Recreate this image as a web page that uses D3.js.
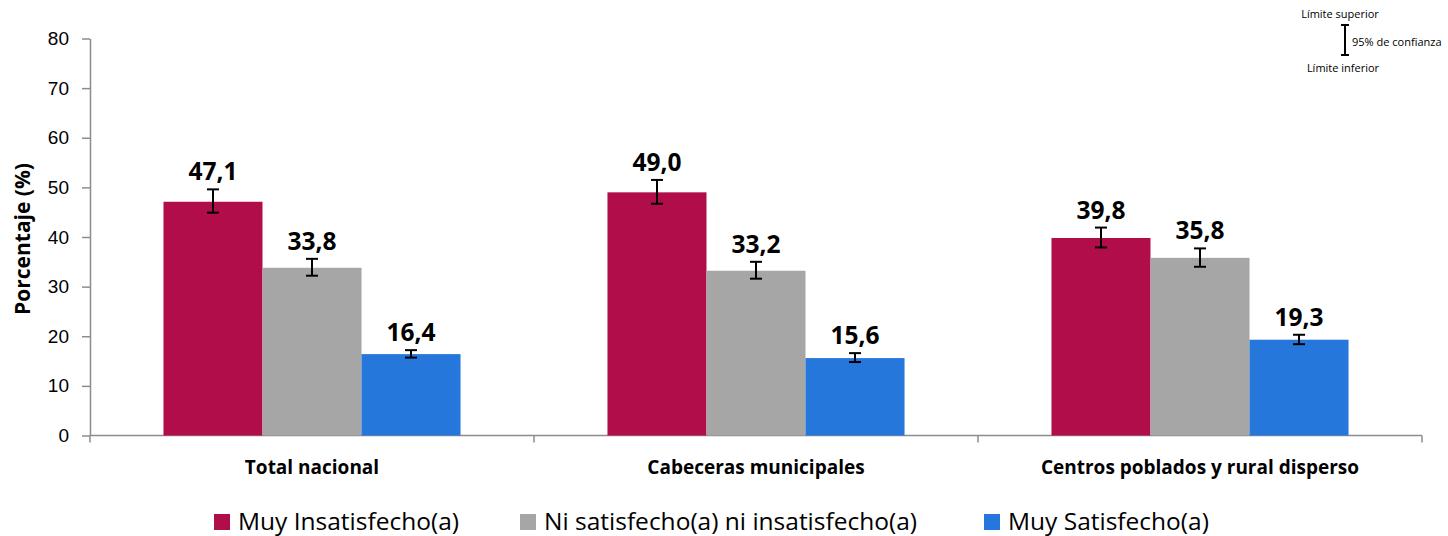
<!DOCTYPE html>
<html>
<head>
<meta charset="utf-8">
<script src="https://cdn.jsdelivr.net/npm/d3@7"></script>
<style>
  body { margin: 0; background: #fff; }
  svg { display: block; font-family: "Open Sans", "Noto Sans", sans-serif; }
  .axis path, .axis line { stroke: #8c8c8c; stroke-width: 1.5; }
  .axis text { fill: #000; }
</style>
</head>
<body>
<script>
(function() {

  // categories on the x axis
  var categories = ["Total nacional", "Cabeceras municipales", "Centros poblados y rural disperso"];
  // series names (legend)
  var seriesNames = ["Muy Insatisfecho(a)", "Ni satisfecho(a) ni insatisfecho(a)", "Muy Satisfecho(a)"];
  var seriesColors = ["#b10d4b", "#a6a6a6", "#2677db"];

  // values per series, one per category
  var muyInsatisfecho = [47.1, 49.0, 39.8];
  var niSatisfecho = [33.8, 33.2, 35.8];
  var muySatisfecho = [16.4, 15.6, 19.3];

  // 95% confidence limits
  var insatLower = [44.9, 46.7, 37.9], insatUpper = [49.6, 51.5, 41.9];
  var niLower = [32.2, 31.6, 34.0], niUpper = [35.6, 35.0, 37.7];
  var satLower = [15.7, 14.8, 18.4], satUpper = [17.2, 16.6, 20.3];

  var yTicks = [0, 10, 20, 30, 40, 50, 60, 70, 80];

  var width = 1448, height = 536;
  var margin = {top: 38.5, left: 90, right: 26, bottom: 100.5};

  var values = [muyInsatisfecho, niSatisfecho, muySatisfecho];
  var lows = [insatLower, niLower, satLower];
  var highs = [insatUpper, niUpper, satUpper];

  // flatten into one record per bar
  var bars = [];
  categories.forEach(function(c, ci) {
    seriesNames.forEach(function(s, si) {
      bars.push({cat: c, series: s, si: si, value: values[si][ci], lo: lows[si][ci], hi: highs[si][ci]});
    });
  });

  var svg = d3.select("body").append("svg")
      .attr("width", width)
      .attr("height", height);

  var x0 = d3.scaleBand()
      .domain(categories)
      .range([margin.left, width - margin.right]);

  var x1 = d3.scaleBand()
      .domain(seriesNames)
      .range([0, x0.bandwidth()])
      .paddingInner(0)
      .paddingOuter(0.742);

  var y = d3.scaleLinear()
      .domain([0, 80])
      .range([height - margin.bottom, margin.top]);

  var fmt = function(v) { return d3.format(".1f")(v).replace(".", ","); };

  /* Y axis */
  var yAxis = svg.append("g")
      .attr("class", "axis")
      .attr("transform", "translate(" + margin.left + ",0)")
      .call(d3.axisLeft(y).tickValues(yTicks).tickSize(8).tickPadding(13).tickSizeOuter(0));
  yAxis.selectAll("text").style("font-size", "19px");

  svg.append("text")
      .attr("transform", "translate(30,239)rotate(-90)")
      .attr("text-anchor", "middle")
      .style("font-size", "21px")
      .style("font-weight", "bold")
      .text("Porcentaje (%)");

  /* X axis: baseline with separators between groups */
  var xAxis = svg.append("g").attr("class", "axis");
  xAxis.append("line")
      .attr("x1", margin.left).attr("x2", width - margin.right)
      .attr("y1", y(0)).attr("y2", y(0));
  var seps = categories.map(function(c) { return x0(c); }).concat([width - margin.right]);
  xAxis.selectAll(".sep")
      .data(seps)
    .enter().append("line")
      .attr("class", "sep")
      .attr("x1", function(d) { return d; }).attr("x2", function(d) { return d; })
      .attr("y1", y(0)).attr("y2", y(0) + 7);

  svg.selectAll(".cat-label")
      .data(categories)
    .enter().append("text")
      .attr("class", "cat-label")
      .attr("x", function(d) { return x0(d) + x0.bandwidth() / 2; })
      .attr("y", 474)
      .attr("text-anchor", "middle")
      .style("font-size", "19px")
      .style("font-weight", "bold")
      .text(function(d) { return d; });

  /* bars */
  svg.selectAll(".bar")
      .data(bars)
    .enter().append("rect")
      .attr("class", "bar")
      .attr("x", function(d) { return x0(d.cat) + x1(d.series); })
      .attr("y", function(d) { return y(d.value); })
      .attr("width", x1.bandwidth())
      .attr("height", function(d) { return y(0) - y(d.value); })
      .style("fill", function(d) { return seriesColors[d.si]; });

  /* error bars */
  var err = svg.selectAll(".err")
      .data(bars)
    .enter().append("g")
      .attr("class", "err")
      .attr("transform", function(d) { return "translate(" + (x0(d.cat) + x1(d.series) + x1.bandwidth() / 2) + ",0)"; })
      .style("stroke", "#000")
      .style("stroke-width", 2);
  err.append("line")
      .attr("y1", function(d) { return y(d.lo); })
      .attr("y2", function(d) { return y(d.hi); });
  err.append("line")
      .attr("x1", -6).attr("x2", 6)
      .attr("y1", function(d) { return y(d.lo); })
      .attr("y2", function(d) { return y(d.lo); });
  err.append("line")
      .attr("x1", -6).attr("x2", 6)
      .attr("y1", function(d) { return y(d.hi); })
      .attr("y2", function(d) { return y(d.hi); });

  /* value labels */
  svg.selectAll(".val")
      .data(bars)
    .enter().append("text")
      .attr("class", "val")
      .attr("x", function(d) { return x0(d.cat) + x1(d.series) + x1.bandwidth() / 2; })
      .attr("y", function(d) { return y(d.hi) - 9; })
      .attr("text-anchor", "middle")
      .style("font-size", "24.5px")
      .style("font-weight", "bold")
      .text(function(d) { return fmt(d.value); });

  /* bottom legend */
  var legendX = [214, 520, 984];
  var legend = svg.selectAll(".legend")
      .data(seriesNames)
    .enter().append("g")
      .attr("class", "legend")
      .attr("transform", function(d, i) { return "translate(" + legendX[i] + ",514)"; });
  legend.append("rect")
      .attr("width", 16).attr("height", 16)
      .style("fill", function(d, i) { return seriesColors[i]; });
  legend.append("text")
      .attr("x", 24)
      .attr("y", 16)
      .style("font-size", "24.5px")
      .text(function(d) { return d; });

  /* confidence interval key (top right) */
  var key = svg.append("g").style("font-size", "11px");
  key.append("text").attr("x", 1340).attr("y", 18).attr("text-anchor", "middle").text("Límite superior");
  key.append("text").attr("x", 1343).attr("y", 72).attr("text-anchor", "middle").text("Límite inferior");
  key.append("text").attr("x", 1352).attr("y", 46).text("95% de confianza");
  var ib = key.append("g").style("stroke", "#000").style("stroke-width", 2);
  ib.append("line").attr("x1", 1345).attr("x2", 1345).attr("y1", 25).attr("y2", 55);
  ib.append("line").attr("x1", 1341).attr("x2", 1349).attr("y1", 25).attr("y2", 25);
  ib.append("line").attr("x1", 1341).attr("x2", 1349).attr("y1", 55).attr("y2", 55);

})();
</script>
</body>
</html>
